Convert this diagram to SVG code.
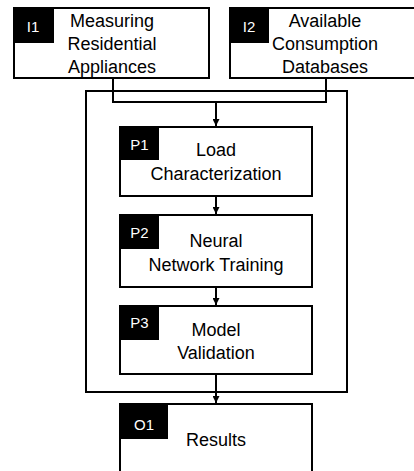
<svg xmlns="http://www.w3.org/2000/svg" width="414" height="471" viewBox="0 0 414 471">
<defs>
<marker id="ah" viewBox="0 0 10 10" refX="10" refY="5" markerWidth="7" markerHeight="7" markerUnits="userSpaceOnUse" orient="auto">
<path d="M0,0 L10,5 L0,10 z" fill="#000"/>
</marker>
<style>
.box{fill:#fff;stroke:#000;stroke-width:2}
.tag{fill:#000}
.tt{font-family:"Liberation Sans",Arial,sans-serif;font-size:15px;fill:#fff;text-anchor:middle}
.t{font-family:"Liberation Sans",Arial,sans-serif;font-size:18px;fill:#000;text-anchor:middle}
.ln{fill:none;stroke:#000;stroke-width:2}
</style>
</defs>
<rect width="414" height="471" fill="#fff"/>
<g id="container"><rect class="box" x="86" y="91" width="261" height="301" fill="none"/></g>
<g id="connectors">
<path class="ln" d="M113,78 V102 H326 V78"/>
<path class="ln" d="M216,102 V126" marker-end="url(#ah)"/>
<path class="ln" d="M216,196 V214" marker-end="url(#ah)"/>
<path class="ln" d="M216,287 V305" marker-end="url(#ah)"/>
<path class="ln" d="M216,374 V403" marker-end="url(#ah)"/>
</g>
<g id="I1">
<rect class="box" x="14" y="8" width="195" height="70"/>
<rect class="tag" x="14" y="8" width="40" height="35"/>
<text class="tt" x="33" y="32">I1</text>
<text class="t" x="112" y="27">Measuring</text>
<text class="t" x="112" y="50">Residential</text>
<text class="t" x="112" y="73">Appliances</text>
</g>
<g id="I2">
<rect class="box" x="230" y="8" width="186" height="70"/>
<rect class="tag" x="230" y="8" width="39" height="35"/>
<text class="tt" x="249" y="32">I2</text>
<text class="t" x="325" y="27">Available</text>
<text class="t" x="325" y="50">Consumption</text>
<text class="t" x="325" y="73">Databases</text>
</g>
<g id="P1">
<rect class="box" x="120" y="127" width="192" height="69"/>
<rect class="tag" x="120" y="127" width="39" height="33"/>
<text class="tt" x="139.5" y="150">P1</text>
<text class="t" x="216" y="156">Load</text>
<text class="t" x="216" y="180">Characterization</text>
</g>
<g id="P2">
<rect class="box" x="120" y="215" width="192" height="72"/>
<rect class="tag" x="120" y="215" width="39" height="34"/>
<text class="tt" x="139.5" y="238">P2</text>
<text class="t" x="216" y="247">Neural</text>
<text class="t" x="216" y="271">Network Training</text>
</g>
<g id="P3">
<rect class="box" x="120" y="306" width="192" height="68"/>
<rect class="tag" x="120" y="306" width="39" height="34"/>
<text class="tt" x="139.5" y="328">P3</text>
<text class="t" x="216" y="336">Model</text>
<text class="t" x="216" y="359">Validation</text>
</g>
<g id="O1">
<rect class="box" x="120" y="404" width="192" height="72"/>
<rect class="tag" x="120" y="404" width="48" height="35"/>
<text class="tt" x="144" y="430">O1</text>
<text class="t" x="216" y="446">Results</text>
</g>
</svg>
